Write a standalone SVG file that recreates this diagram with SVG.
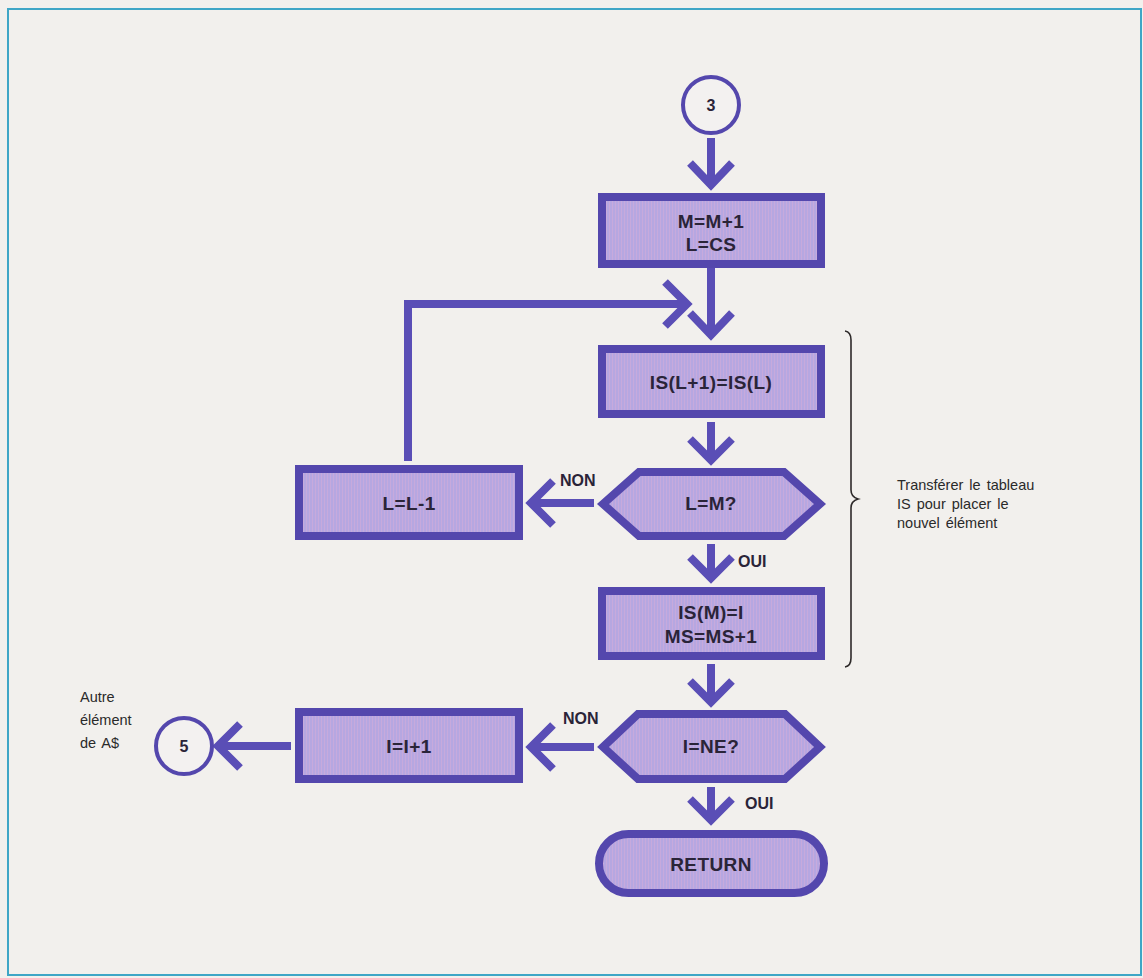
<svg xmlns="http://www.w3.org/2000/svg" width="1143" height="978" viewBox="0 0 1143 978">
  <defs>
    <!-- fine vertical hatching used inside the flowchart shapes -->
    <pattern id="hatch" width="3" height="6" patternUnits="userSpaceOnUse">
      <rect width="3" height="6" fill="#b6a7e1"/>
      <rect width="1" height="6" fill="#c7aadc"/>
    </pattern>
    <style>
      .shape { fill: url(#hatch); stroke: #5447ad; stroke-width: 8; stroke-linejoin: miter; }
      .conn { fill: none; stroke: #5a4eb6; stroke-width: 8; stroke-linecap: butt; stroke-linejoin: miter; }
      .ring { fill: #f3f1f0; stroke: #5447ad; stroke-width: 4; }
      .lbl { font-family: "Liberation Sans", Arial, sans-serif; font-weight: bold; font-size: 19px; letter-spacing: 0.4px; fill: #2a2438; text-anchor: middle; }
      .num { font-family: "Liberation Sans", Arial, sans-serif; font-weight: bold; font-size: 16px; fill: #2a2438; text-anchor: middle; }
      .tag { font-family: "Liberation Sans", Arial, sans-serif; font-weight: bold; font-size: 16px; fill: #2a2438; }
      .note { font-family: "Liberation Sans", Arial, sans-serif; font-size: 14.5px; fill: #2a2a2a; word-spacing: 2px; }
    </style>
  </defs>

  <!-- page background and frame -->
  <rect x="0" y="0" width="1143" height="978" fill="#f2f0ed"/>
  <rect x="8" y="9" width="1133" height="966" fill="none" stroke="#3fa6c6" stroke-width="2"/>

  <!-- connectors -->
  <g id="connectors">
    <!-- 3 -> M=M+1 -->
    <path class="conn" d="M711 138 V185 M690 163 L711 185 L732 163"/>
    <!-- M=M+1 -> IS(L+1)=IS(L) -->
    <path class="conn" d="M711 268 V335 M690 313 L711 335 L732 313"/>
    <!-- loop back from L=L-1 -->
    <path class="conn" d="M408 461 V304 H687 M665 282 L687 304 L665 326"/>
    <!-- IS(L+1)=IS(L) -> L=M? -->
    <path class="conn" d="M711 422 V460 M690 439 L711 460 L732 439"/>
    <!-- L=M? NON -> L=L-1 -->
    <path class="conn" d="M594 503 H531 M553 481 L531 503 L553 525"/>
    <!-- L=M? OUI -> IS(M)=I -->
    <path class="conn" d="M711 544 V578 M690 557 L711 578 L732 557"/>
    <!-- IS(M)=I -> I=NE? -->
    <path class="conn" d="M711 664 V702 M690 681 L711 702 L732 681"/>
    <!-- I=NE? NON -> I=I+1 -->
    <path class="conn" d="M594 747 H531 M553 725 L531 747 L553 769"/>
    <!-- I=NE? OUI -> RETURN -->
    <path class="conn" d="M711 787 V820 M690 799 L711 820 L732 799"/>
    <!-- I=I+1 -> 5 -->
    <path class="conn" d="M291 746 H218 M240 724 L218 746 L240 768"/>
  </g>

  <g id="n-start">
    <circle class="ring" cx="711" cy="105" r="28"/>
    <text class="num" x="711" y="111">3</text>
  </g>

  <g id="n-incr">
    <rect class="shape" x="602" y="197" width="219" height="67"/>
    <text class="lbl" x="711" y="228">M=M+1</text>
    <text class="lbl" x="711" y="251">L=CS</text>
  </g>

  <g id="n-shift">
    <rect class="shape" x="602" y="349" width="219" height="65"/>
    <text class="lbl" x="711" y="389">IS(L+1)=IS(L)</text>
  </g>

  <g id="n-test-lm">
    <polygon class="shape" points="603,504 639,472 784,472 820,504 784,536 639,536"/>
    <text class="lbl" x="711" y="510">L=M?</text>
  </g>

  <g id="n-decr">
    <rect class="shape" x="299" y="469" width="220" height="67"/>
    <text class="lbl" x="409" y="510">L=L-1</text>
  </g>

  <g id="n-store">
    <rect class="shape" x="602" y="591" width="219" height="65"/>
    <text class="lbl" x="711" y="619">IS(M)=I</text>
    <text class="lbl" x="711" y="643">MS=MS+1</text>
  </g>

  <g id="n-test-ine">
    <polygon class="shape" points="603,747 638,714 785,714 820,747 785,779 638,779"/>
    <text class="lbl" x="711" y="753">I=NE?</text>
  </g>

  <g id="n-next">
    <rect class="shape" x="299" y="712" width="220" height="67"/>
    <text class="lbl" x="409" y="753">I=I+1</text>
  </g>

  <g id="n-goto5">
    <circle class="ring" cx="184" cy="746" r="28"/>
    <text class="num" x="184" y="752">5</text>
  </g>

  <g id="n-return">
    <rect class="shape" x="599" y="834" width="225" height="59" rx="29.5"/>
    <text class="lbl" x="711" y="871">RETURN</text>
  </g>

  <!-- branch labels -->
  <g id="labels">
    <text class="tag" x="560" y="486">NON</text>
    <text class="tag" x="738" y="567">OUI</text>
    <text class="tag" x="563" y="724">NON</text>
    <text class="tag" x="745" y="809">OUI</text>
  </g>

  <!-- side notes -->
  <g id="note-left">
    <text class="note" x="80" y="702">Autre</text>
    <text class="note" x="80" y="725">élément</text>
    <text class="note" x="80" y="748">de A$</text>
  </g>

  <g id="note-right">
    <path d="M845 331 Q851 332 851 340 V490 Q851 497 858 499 Q851 501 851 508 V658 Q851 666 845 667" fill="none" stroke="#2e2a2a" stroke-width="1.6"/>
    <text class="note" x="897" y="490">Transférer le tableau</text>
    <text class="note" x="897" y="509">IS pour placer le</text>
    <text class="note" x="897" y="528">nouvel élément</text>
  </g>
</svg>
